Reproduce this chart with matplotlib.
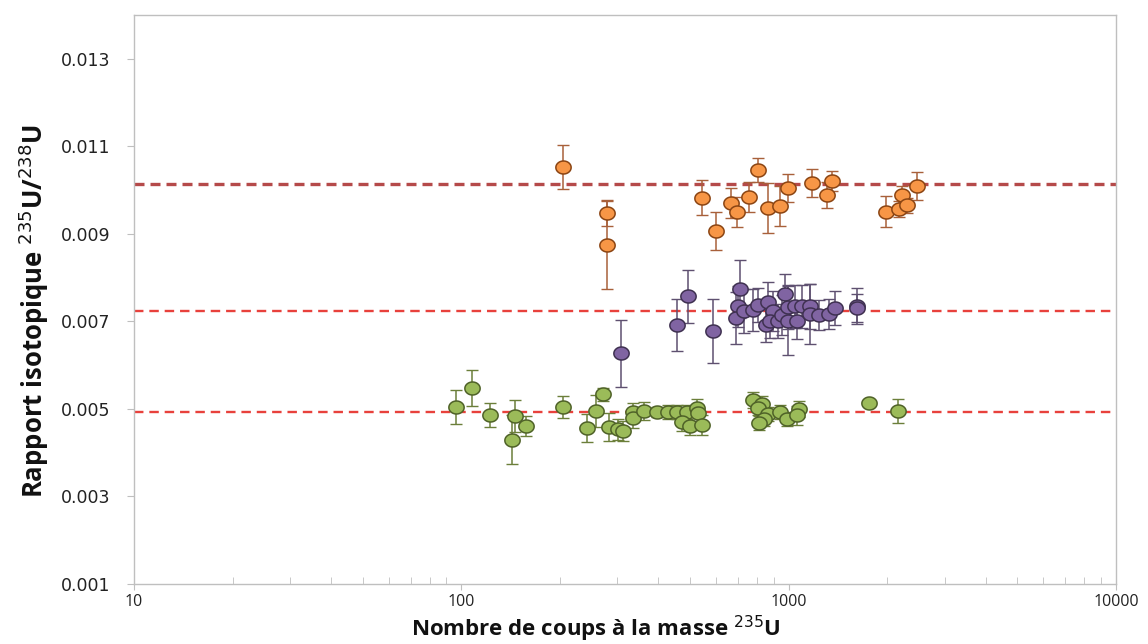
import numpy as np
import matplotlib
matplotlib.use("Agg")
import matplotlib.pyplot as plt
from matplotlib.path import Path

# --- data (counts at mass 235, ratio, 1-sigma) ---
orange_x = [204.5, 279.3, 277.7, 545, 598.9, 665.6, 697.3, 756.8, 808.0, 866.9,
            941.3, 997.9, 1181, 1307, 1354, 1981, 2179, 2216, 2295, 2463]
orange_y = [0.01052, 0.00948, 0.00874, 0.00983, 0.00906, 0.00970, 0.00950, 0.00985,
            0.01046, 0.00960, 0.00964, 0.01005, 0.01016, 0.00988, 0.01021, 0.00951,
            0.00957, 0.00989, 0.00965, 0.01009]
orange_err = [0.00050, 0.00030, 0.00100, 0.00040, 0.00043, 0.00034, 0.00034, 0.00034,
              0.00027, 0.00057, 0.00046, 0.00032, 0.00032, 0.00030, 0.00023, 0.00036,
              0.00018, 0.00021, 0.00018, 0.00032]

purple_x = [307.6, 455.1, 493.9, 585.6, 710.4, 699.1, 690.8, 732.3, 780.2, 804.5,
            866.9, 894.3, 853.0, 877.3, 926.0, 975.0, 952.6, 997.9, 997.9, 1046,
            1059, 1096, 1163, 1163, 1241, 1328, 1386, 1615, 1615]
purple_y = [0.00627, 0.00691, 0.00757, 0.00678, 0.00774, 0.00734, 0.00707, 0.00723,
            0.00725, 0.00738, 0.00744, 0.00723, 0.00691, 0.00700, 0.00700, 0.00762,
            0.00715, 0.00732, 0.00702, 0.00734, 0.00700, 0.00734, 0.00734, 0.00717,
            0.00715, 0.00717, 0.00731, 0.00736, 0.00731]
purple_err = [0.00076, 0.00059, 0.00060, 0.00072, 0.00066, 0.00046, 0.00059, 0.00050,
              0.00048, 0.00039, 0.00046, 0.00046, 0.00039, 0.00039, 0.00039, 0.00046,
              0.00046, 0.00050, 0.00078, 0.00050, 0.00041, 0.00050, 0.00052, 0.00068,
              0.00034, 0.00034, 0.00039, 0.00041, 0.00032]

green_x = [96.1, 107.6, 122.4, 146, 143.1, 157.3, 204.8, 241.6, 257.9, 271.6,
           282.7, 300.6, 311.3, 335.4, 335.4, 362.3, 395.4, 429.0, 457.1, 488.3,
           473.4, 499.8, 524.0, 527.7, 545.0, 780.2, 831.0, 804.5, 863.0, 842.7,
           812.0, 941.3, 986.7, 1078, 1059, 1761, 2164]
green_y = [0.00505, 0.00548, 0.00486, 0.00484, 0.00430, 0.00460, 0.00505, 0.00456,
           0.00495, 0.00533, 0.00458, 0.00453, 0.00449, 0.00493, 0.00480, 0.00495,
           0.00493, 0.00493, 0.00492, 0.00492, 0.00470, 0.00461, 0.00502, 0.00491,
           0.00464, 0.00520, 0.00512, 0.00503, 0.00488, 0.00478, 0.00468, 0.00493,
           0.00476, 0.00499, 0.00485, 0.00514, 0.00495]
green_err = [0.00039, 0.00041, 0.00027, 0.00036, 0.00057, 0.00023, 0.00025, 0.00032,
             0.00036, 0.00014, 0.00032, 0.00023, 0.00023, 0.00021, 0.00023, 0.00021,
             0.00011, 0.00016, 0.00016, 0.00016, 0.00021, 0.00021, 0.00021, 0.00018,
             0.00023, 0.00018, 0.00018, 0.00018, 0.00016, 0.00016, 0.00016, 0.00016,
             0.00016, 0.00018, 0.00021, 0.00003, 0.00027]

ref_lines = [0.01013, 0.00723, 0.00493]
y_ticks = [0.001, 0.003, 0.005, 0.007, 0.009, 0.011, 0.013]
x_ticks = [10, 100, 1000, 10000]

# Excel-like squashed circle marker
t = np.linspace(0, 2 * np.pi, 60)
ELLIPSE = Path(np.column_stack([np.cos(t), 0.85 * np.sin(t)]), closed=True)

plt.rcParams["font.family"] = ["Open Sans", "DejaVu Sans"]

fig = plt.figure(figsize=(11.48, 6.44), dpi=100)
ax = fig.add_axes([0.1167, 0.0932, 0.8554, 0.8835])

series = [
    (green_x, green_y, green_err, "#9BBB59", "#4F6228", "#6B7F3A"),
    (purple_x, purple_y, purple_err, "#8064A2", "#3F3151", "#5E5070"),
    (orange_x, orange_y, orange_err, "#F79646", "#8B4513", "#A8603A"),
]

# dashed reference levels
ax.axhline(ref_lines[0], color="#B54A4A", lw=2.4, ls=(0, (3, 1.8)), zorder=1)
ax.axhline(ref_lines[1], color="#E8413C", lw=1.7, ls=(0, (4, 2.5)), zorder=1)
ax.axhline(ref_lines[2], color="#E8413C", lw=1.7, ls=(0, (4, 2.5)), zorder=1)

for xs, ys, es, fc, ec, erc in series:
    ax.errorbar(xs, ys, yerr=es, fmt="none", ecolor=erc, elinewidth=1.1,
                capsize=4, capthick=1.0, zorder=2)
    ax.plot(xs, ys, ls="none", marker=ELLIPSE, markersize=11,
            markerfacecolor=fc, markeredgecolor=ec, markeredgewidth=1.1, zorder=3)

ax.set_xscale("log")
ax.set_xlim(10, 10000)
ax.set_ylim(0.001, 0.014)
ax.set_yticks(y_ticks)
ax.set_yticklabels([f"{v:.3f}" for v in y_ticks], family=["DejaVu Sans"])
ax.set_xticks(x_ticks)
ax.set_xticklabels([str(v) for v in x_ticks])

for sp in ax.spines.values():
    sp.set_color("#BFBFBF")
    sp.set_linewidth(1.0)
ax.tick_params(axis="y", which="major", length=5, color="#BFBFBF",
               labelsize=12.5, pad=12, labelcolor="#222222")
ax.tick_params(axis="x", which="major", length=4, color="#BFBFBF",
               labelsize=11.5, pad=3, labelcolor="#222222")
ax.tick_params(axis="x", which="minor", direction="in", length=5, color="#BFBFBF")

ax.set_xlabel("Nombre de coups à la masse $^{235}$U", fontsize=16,
              fontweight="bold", color="#111111", va="bottom")
ax.xaxis.set_label_coords(0.47, -0.105)
ax.set_ylabel("Rapport isotopique $^{235}$U/$^{238}$U", fontsize=18.5,
              fontweight="bold", color="#111111",
              family=["Liberation Sans Narrow", "Open Sans"])
ax.yaxis.set_label_coords(-0.085, 0.48)

fig.savefig("out.png", dpi=100)
